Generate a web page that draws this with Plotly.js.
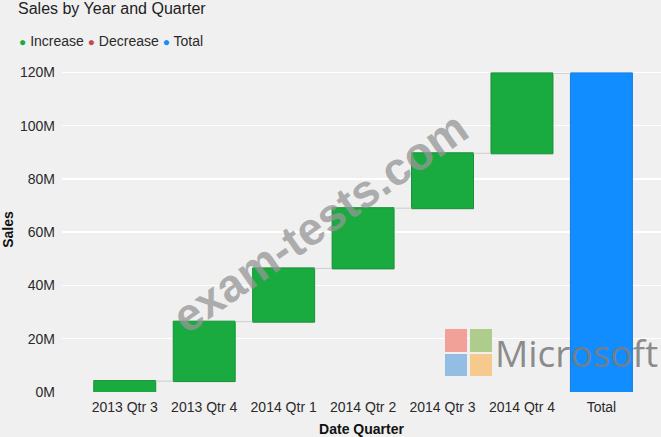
<!DOCTYPE html>
<html>
<head>
<meta charset="utf-8">
<script src="https://cdn.plot.ly/plotly-3.0.1.min.js"></script>
<style>
  html, body { margin: 0; padding: 0; background: #f0f0f0; }
  #chart { width: 661px; height: 437px; }
</style>
</head>
<body>
<div id="chart"></div>
<script>
// ---- Data (values in millions) ----
const categories = ['2013 Qtr 3', '2013 Qtr 4', '2014 Qtr 1', '2014 Qtr 2', '2014 Qtr 3', '2014 Qtr 4', 'Total'];
const measures = ['relative', 'relative', 'relative', 'relative', 'relative', 'relative', 'total'];
const salesChangeM = [4.1, 22.3, 20.0, 22.6, 20.6, 30.0, 0];
const yTickVals = [0, 20, 40, 60, 80, 100, 120];
const yTickText = ['0M', '20M', '40M', '60M', '80M', '100M', '120M'];
const legendNames = ['Increase', 'Decrease', 'Total'];
const legendColors = ['#1aab40', '#c0504d', '#118dff'];

const FONT = 'Liberation Sans, Arial, sans-serif';

const trace = {
  type: 'waterfall',
  x: categories,
  y: salesChangeM,
  measure: measures,
  increasing: { marker: { color: legendColors[0], line: { color: '#178f38', width: 1 } } },
  decreasing: { marker: { color: legendColors[1] } },
  totals: { marker: { color: legendColors[2], line: { color: '#0f7ee0', width: 1 } } },
  connector: { mode: 'between', line: { color: '#cccccc', width: 1 } },
  showlegend: false,
  hoverinfo: 'x+y'
};

const legendText = legendNames.map((n, i) =>
  '<span style="color:' + legendColors[i] + ';font-size:12px">●</span> ' + n
).join(' ');

const layout = {
  width: 661,
  height: 437,
  paper_bgcolor: '#f0f0f0',
  plot_bgcolor: '#f0f0f0',
  margin: { l: 62, r: 0, t: 67, b: 45 },
  font: { family: FONT, size: 14, color: '#2a2a2a' },
  waterfallgap: 0.22,
  title: {
    text: 'Sales by Year and Quarter',
    font: { family: FONT, size: 16, color: '#222222' },
    xref: 'container', yref: 'container',
    x: 18 / 661, xanchor: 'left',
    y: 1 - 3 / 437, yanchor: 'top',
    pad: { t: 0 }
  },
  xaxis: {
    type: 'category',
    range: [-0.79, 6.75],
    showgrid: false,
    zeroline: false,
    showline: false,
    ticks: '',
    ticklabelstandoff: 5,
    tickfont: { family: FONT, size: 14, color: '#2a2a2a' },
    title: { text: 'Date Quarter', font: { family: FONT, size: 14, color: '#111111', weight: 'bold' }, standoff: 14 }
  },
  yaxis: {
    range: [0, 122],
    tickvals: yTickVals,
    ticktext: yTickText,
    showgrid: true,
    gridcolor: '#ffffff',
    gridwidth: 1.5,
    zeroline: false,
    showline: false,
    ticks: '',
    ticklabelstandoff: 6,
    tickfont: { family: FONT, size: 14, color: '#2a2a2a' },
    title: { text: 'Sales', font: { family: FONT, size: 14, color: '#111111', weight: 'bold' }, standoff: 4 }
  },
  annotations: [
    {
      xref: 'paper', yref: 'paper',
      x: (17 - 62) / 599, y: (392 - 41) / 325,
      xanchor: 'left', yanchor: 'middle',
      text: legendText, showarrow: false,
      font: { family: FONT, size: 14, color: '#2a2a2a' }
    },
    {
      xref: 'paper', yref: 'paper',
      x: (320 - 62) / 599, y: (392 - 222) / 325,
      xanchor: 'center', yanchor: 'middle',
      text: 'exam-tests.com', showarrow: false, textangle: -35,
      font: { family: FONT, size: 46, color: 'rgba(150,150,150,0.75)', weight: 'bold' }
    },
    {
      xref: 'paper', yref: 'paper',
      x: (493 - 62) / 599, y: (392 - 352) / 325,
      xanchor: 'left', yanchor: 'middle',
      text: 'Microsoft', showarrow: false,
      font: { family: 'Open Sans, sans-serif', size: 37, color: 'rgba(125,125,125,0.9)' }
    }
  ],
  shapes: [
    { type: 'rect', xref: 'paper', yref: 'paper', layer: 'above', line: { width: 0 },
      x0: (445 - 62) / 599, x1: (467 - 62) / 599, y0: (392 - 352) / 325, y1: (392 - 329) / 325, fillcolor: '#f1a197' },
    { type: 'rect', xref: 'paper', yref: 'paper', layer: 'above', line: { width: 0 },
      x0: (470 - 62) / 599, x1: (492 - 62) / 599, y0: (392 - 352) / 325, y1: (392 - 329) / 325, fillcolor: '#aecd8c' },
    { type: 'rect', xref: 'paper', yref: 'paper', layer: 'above', line: { width: 0 },
      x0: (445 - 62) / 599, x1: (467 - 62) / 599, y0: (392 - 376) / 325, y1: (392 - 354) / 325, fillcolor: '#93bde3' },
    { type: 'rect', xref: 'paper', yref: 'paper', layer: 'above', line: { width: 0 },
      x0: (470 - 62) / 599, x1: (492 - 62) / 599, y0: (392 - 376) / 325, y1: (392 - 354) / 325, fillcolor: '#f6c98c' }
  ]
};

Plotly.newPlot('chart', [trace], layout, { displayModeBar: false, staticPlot: true });
</script>
</body>
</html>
